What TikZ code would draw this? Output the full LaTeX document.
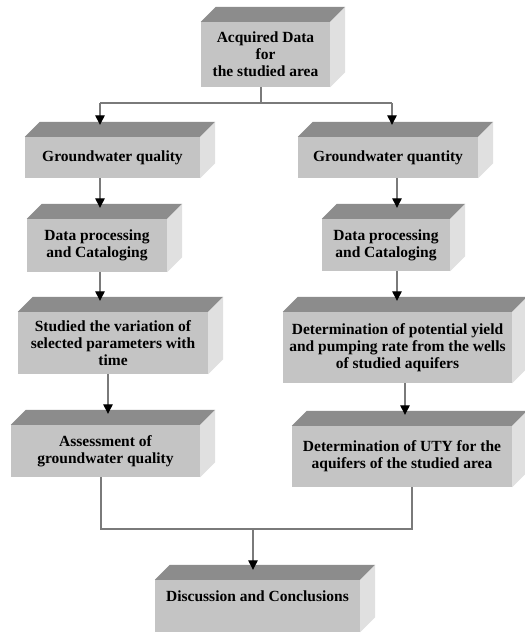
\documentclass[tikz,border=0pt]{standalone}
\usepackage{fontspec}
\setmainfont{Liberation Serif}
\usetikzlibrary{arrows.meta,calc}
\definecolor{topc}{HTML}{8C8C8C}
\definecolor{frontc}{HTML}{C4C4C4}
\definecolor{sidec}{HTML}{E0E0E0}
\definecolor{linec}{HTML}{7A7A7A}
\newcommand\boxthree[6]{%
  \node[front, minimum width={(#4-#2)*1pt}, minimum height={(#5-#3)*1pt}]
    (#1) at ({(#2+#4)/2},{(#3+#5)/2}) {#6};
  \fill[topc] (#1.north west) -- ++(15pt,15pt) -- ($(#1.north east)+(15pt,15pt)$) -- (#1.north east) -- cycle;
  \fill[sidec] (#1.north east) -- ++(15pt,15pt) -- ($(#1.south east)+(15pt,15pt)$) -- (#1.south east) -- cycle;
}
\begin{document}
\begin{tikzpicture}[x=1pt,y=-1pt,
  front/.style={fill=frontc, inner sep=0pt, align=center,
    font=\fontsize{15.5}{17}\selectfont\bfseries},
  ln/.style={draw=linec, line width=1.2pt},
  arr/.style={ln, -{Triangle[length=9.5pt,width=9.5pt,color=black]}}]
\useasboundingbox[fill=white] (0,0) rectangle (525,633);

\boxthree{A}{201}{22}{330}{87}{Acquired Data\\for\\the studied area}
\boxthree{GQL}{25}{137}{200}{178}{Groundwater quality}
\boxthree{GQN}{298}{137}{478}{178}{Groundwater quantity}
\boxthree{DPL}{27}{219}{167}{272}{Data processing\\and Cataloging}
\boxthree{DPR}{322}{219}{450}{271}{Data processing\\and Cataloging}
\boxthree{STV}{18}{312}{208}{374}{Studied the variation of\\selected parameters with\\time}
\boxthree{DPY}{283}{312}{512}{383}{Determination of potential yield\\and pumping rate from the wells\\of studied aquifers}
\boxthree{AGQ}{11}{425}{200}{477}{Assessment of\\groundwater quality}
\boxthree{UTY}{292}{426}{512}{487}{Determination of UTY for the\\aquifers of the studied area}
\boxthree{DC}{155}{580}{360}{632}{\raisebox{20pt}{Discussion and Conclusions}}

\coordinate (jA) at (261,103);
\coordinate (jL) at (100,103);
\coordinate (jR) at (392,103);
\coordinate (cL1) at (100,0);
\coordinate (cL2) at (108,0);
\coordinate (cR1) at (397,0);
\coordinate (cR2) at (405,0);
\coordinate (bL) at (101,529);
\coordinate (bR) at (412,529);
\coordinate (bM) at (253,529);

\draw[ln] (A.south -| jA) -- (jA);
\draw[ln] (jL) -- (jR);
\draw[arr] (jL) -- ($(GQL.north -| jL)+(0,12pt)$);
\draw[arr] (jR) -- ($(GQN.north -| jR)+(0,12pt)$);
\draw[arr] (GQL.south -| cL1) -- ($(DPL.north -| cL1)+(0,11pt)$);
\draw[arr] (DPL.south -| cL1) -- ($(STV.north -| cL1)+(0,11pt)$);
\draw[arr] (STV.south -| cL2) -- ($(AGQ.north -| cL2)+(0,11pt)$);
\draw[arr] (GQN.south -| cR1) -- ($(DPR.north -| cR1)+(0,11pt)$);
\draw[arr] (DPR.south -| cR1) -- ($(DPY.north -| cR1)+(0,11pt)$);
\draw[arr] (DPY.south -| cR2) -- ($(UTY.north -| cR2)+(0,11pt)$);
\draw[ln] (AGQ.south -| bL) -- (bL) -- (bR) -- (UTY.south -| bR);
\draw[arr] (bM) -- ($(DC.north -| bM)+(0,10pt)$);
\end{tikzpicture}
\end{document}
